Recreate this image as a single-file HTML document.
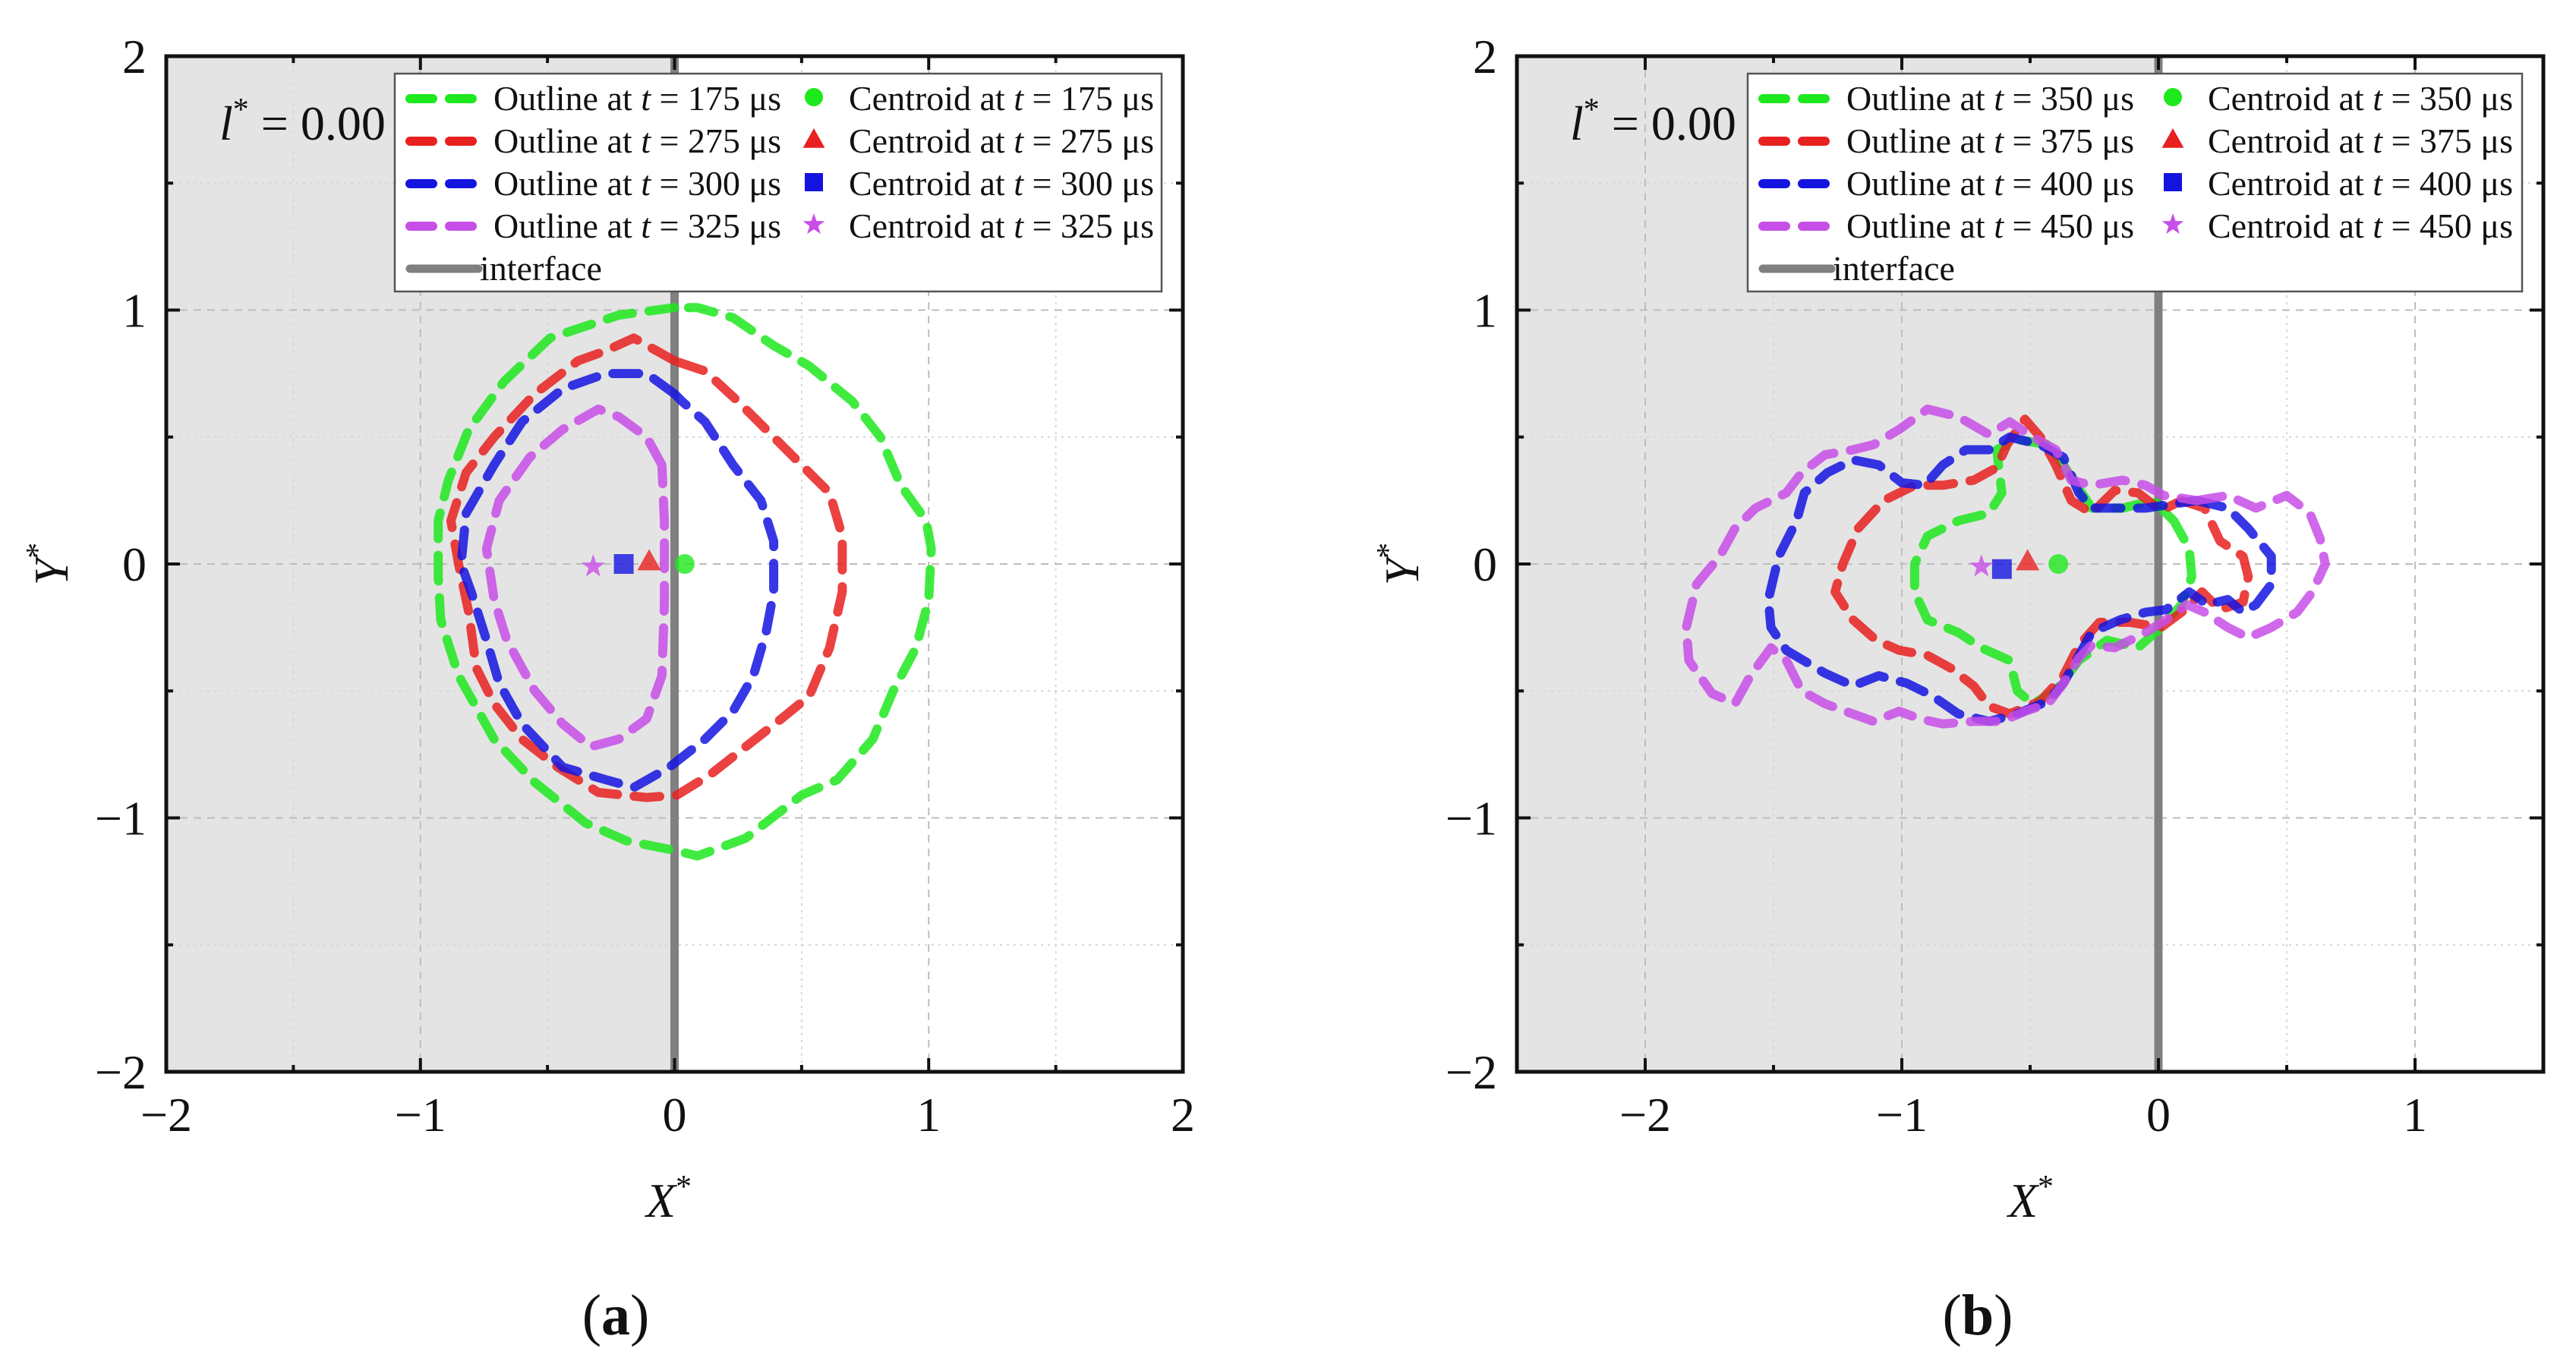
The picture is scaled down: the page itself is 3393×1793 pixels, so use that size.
<!DOCTYPE html>
<html><head><meta charset="utf-8">
<style>
html,body{margin:0;padding:0;background:#fff;}
svg{display:block;font-family:"Liberation Serif","DejaVu Serif",serif;}
</style></head>
<body>
<svg id="fig" width="3393" height="1793" viewBox="0 0 3393 1793" xmlns="http://www.w3.org/2000/svg"></svg>
<script>
// ---------- Panel (a) data ----------
const aLabels = ["175","275","300","325"];
const aOutline175 = [[0,1.01],[-0.22,0.98],[-0.49,0.89],[-0.67,0.72],[-0.81,0.53],[-0.89,0.33],[-0.93,0.17],[-0.93,-0.05],[-0.92,-0.22],[-0.85,-0.44],[-0.71,-0.69],[-0.55,-0.86],[-0.35,-1.02],[-0.19,-1.09],[0.01,-1.13],[0.09,-1.15],[0.28,-1.08],[0.5,-0.91],[0.64,-0.85],[0.78,-0.69],[0.86,-0.5],[0.95,-0.33],[1.0,-0.14],[1.01,0.06],[0.99,0.17],[0.89,0.31],[0.81,0.5],[0.7,0.64],[0.53,0.78],[0.39,0.86],[0.23,0.97],[0.09,1.01]];
const aOutline275 = [[0,0.8],[-0.16,0.89],[-0.27,0.84],[-0.38,0.8],[-0.55,0.67],[-0.71,0.5],[-0.82,0.36],[-0.88,0.17],[-0.85,0],[-0.81,-0.19],[-0.78,-0.41],[-0.71,-0.55],[-0.6,-0.69],[-0.46,-0.8],[-0.3,-0.9],[-0.11,-0.92],[0.01,-0.91],[0.14,-0.83],[0.28,-0.72],[0.42,-0.61],[0.53,-0.52],[0.61,-0.33],[0.66,-0.11],[0.66,0.11],[0.61,0.28],[0.53,0.36],[0.39,0.5],[0.25,0.64],[0.12,0.76]];
const aOutline300 = [[0,0.67],[-0.11,0.75],[-0.27,0.75],[-0.44,0.69],[-0.6,0.56],[-0.71,0.39],[-0.82,0.2],[-0.84,0],[-0.8,-0.11],[-0.74,-0.3],[-0.69,-0.47],[-0.6,-0.63],[-0.44,-0.8],[-0.27,-0.85],[-0.16,-0.88],[-0.02,-0.8],[0.12,-0.69],[0.23,-0.58],[0.31,-0.44],[0.36,-0.27],[0.39,-0.11],[0.39,0.09],[0.34,0.25],[0.23,0.39],[0.12,0.56],[0.03,0.64]];
const aOutline325 = [[-0.05,0.39],[-0.11,0.5],[-0.22,0.58],[-0.3,0.61],[-0.44,0.53],[-0.57,0.42],[-0.69,0.25],[-0.74,0.06],[-0.71,-0.14],[-0.66,-0.3],[-0.55,-0.5],[-0.44,-0.63],[-0.33,-0.72],[-0.22,-0.69],[-0.11,-0.61],[-0.05,-0.44],[-0.04,-0.16],[-0.04,0.17]];
const aCentroidX = [0.04,-0.10,-0.20,-0.32];
const aCentroidY = [0.0,0.01,0.0,-0.01];

// ---------- Panel (b) data ----------
const bLabels = ["350","375","400","450"];
const bOutline350 = [[0.06,0.17],[-0.02,0.25],[-0.14,0.22],[-0.26,0.22],[-0.37,0.39],[-0.43,0.47],[-0.55,0.49],[-0.63,0.45],[-0.61,0.28],[-0.66,0.2],[-0.78,0.17],[-0.9,0.11],[-0.95,0],[-0.95,-0.11],[-0.9,-0.22],[-0.78,-0.27],[-0.69,-0.33],[-0.58,-0.38],[-0.55,-0.5],[-0.49,-0.55],[-0.4,-0.5],[-0.31,-0.38],[-0.2,-0.3],[-0.08,-0.33],[0.01,-0.25],[0.09,-0.16],[0.13,-0.05],[0.12,0.06]];
const bOutline375 = [[0.09,0.25],[0.18,0.22],[0.24,0.09],[0.33,0.03],[0.35,-0.05],[0.33,-0.15],[0.24,-0.18],[0.17,-0.11],[0.09,-0.19],[0.01,-0.25],[-0.11,-0.23],[-0.23,-0.23],[-0.31,-0.32],[-0.37,-0.44],[-0.46,-0.54],[-0.58,-0.59],[-0.66,-0.56],[-0.72,-0.48],[-0.81,-0.41],[-0.9,-0.36],[-1.01,-0.34],[-1.1,-0.3],[-1.19,-0.22],[-1.26,-0.11],[-1.23,0],[-1.17,0.14],[-1.07,0.25],[-0.95,0.31],[-0.84,0.31],[-0.72,0.33],[-0.63,0.38],[-0.59,0.47],[-0.52,0.57],[-0.46,0.5],[-0.4,0.39],[-0.34,0.25],[-0.26,0.2],[-0.17,0.29],[-0.08,0.28],[0.01,0.21]];
const bOutline400 = [[0.15,0.25],[0.27,0.22],[0.35,0.14],[0.44,0.03],[0.44,-0.08],[0.38,-0.16],[0.33,-0.19],[0.27,-0.14],[0.19,-0.16],[0.12,-0.11],[0.03,-0.18],[-0.05,-0.19],[-0.15,-0.22],[-0.26,-0.27],[-0.31,-0.36],[-0.37,-0.47],[-0.43,-0.54],[-0.55,-0.59],[-0.66,-0.62],[-0.78,-0.59],[-0.88,-0.52],[-0.98,-0.47],[-1.09,-0.44],[-1.19,-0.48],[-1.3,-0.43],[-1.45,-0.34],[-1.51,-0.25],[-1.52,-0.14],[-1.48,0.03],[-1.41,0.17],[-1.38,0.28],[-1.29,0.36],[-1.19,0.41],[-1.09,0.39],[-1.0,0.32],[-0.91,0.31],[-0.84,0.39],[-0.75,0.45],[-0.66,0.45],[-0.58,0.5],[-0.46,0.47],[-0.37,0.42],[-0.31,0.28],[-0.26,0.22],[-0.17,0.22],[-0.05,0.22]];
const bOutline450 = [[0.15,0.25],[0.27,0.27],[0.38,0.22],[0.5,0.27],[0.59,0.2],[0.63,0.1],[0.65,0],[0.6,-0.11],[0.54,-0.19],[0.44,-0.25],[0.35,-0.29],[0.27,-0.25],[0.18,-0.19],[0.11,-0.16],[0.03,-0.22],[-0.05,-0.27],[-0.17,-0.33],[-0.26,-0.32],[-0.31,-0.37],[-0.37,-0.47],[-0.43,-0.55],[-0.52,-0.58],[-0.61,-0.62],[-0.72,-0.62],[-0.84,-0.63],[-0.93,-0.61],[-1.01,-0.58],[-1.11,-0.62],[-1.22,-0.58],[-1.3,-0.55],[-1.39,-0.5],[-1.45,-0.38],[-1.51,-0.33],[-1.59,-0.44],[-1.65,-0.55],[-1.74,-0.51],[-1.83,-0.38],[-1.84,-0.25],[-1.8,-0.08],[-1.71,0.03],[-1.65,0.14],[-1.57,0.22],[-1.45,0.28],[-1.39,0.36],[-1.3,0.43],[-1.19,0.45],[-1.11,0.47],[-1.01,0.53],[-0.9,0.61],[-0.78,0.58],[-0.66,0.51],[-0.58,0.56],[-0.49,0.5],[-0.4,0.45],[-0.34,0.33],[-0.26,0.31],[-0.14,0.33],[-0.05,0.31],[0.02,0.27]];
const bCentroidX = [-0.39,-0.51,-0.61,-0.69];
const bCentroidY = [0.0,0.01,-0.02,-0.01];

const xTicksA = [-2,-1,0,1,2];
const xTicksB = [-2,-1,0,1];
const yTicks = [-2,-1,0,1,2];

const NS = "http://www.w3.org/2000/svg";
const svg = document.getElementById("fig");
const colors = ["#1ee81e","#e82020","#1414e0","#c84ee8"];
const markers = ["circle","triangle","square","star"];

function mk(tag, attrs, parent){
  const e = document.createElementNS(NS, tag);
  for (const k in attrs) e.setAttribute(k, attrs[k]);
  (parent||svg).appendChild(e);
  return e;
}
function marker(g, type, cx, cy, r, color){
  let e;
  if (type==="circle") e = mk("circle",{cx:cx,cy:cy,r:r,fill:color},g);
  else if (type==="square") e = mk("rect",{x:cx-r,y:cy-r,width:2*r,height:2*r,fill:color},g);
  else if (type==="triangle") e = mk("polygon",{points:`${cx},${cy-r*1.25} ${cx-r*1.2},${cy+r*0.9} ${cx+r*1.2},${cy+r*0.9}`,fill:color},g);
  else {
    let p=[]; for(let i=0;i<10;i++){const a=-Math.PI/2+i*Math.PI/5; const rr=i%2?r*0.5:r*1.25; p.push((cx+rr*Math.cos(a)).toFixed(1)+","+(cy+rr*Math.sin(a)).toFixed(1));}
    e = mk("polygon",{points:p.join(" "),fill:color},g);
  }
  return e;
}

function panel(cfg){
  const g = mk("g",{});
  
  
  const L=cfg.left,R=cfg.right,T=74,B=1412;
  const sx = v => L + (v-cfg.xmin)/(cfg.xmax-cfg.xmin)*(R-L);
  const sy = v => B - (v+2)/4*(B-T);
  mk("rect",{x:L,y:T,width:R-L,height:B-T,fill:"#fff"},g);
  const shade = mk("rect",{x:L,y:T,width:sx(0)-L,height:B-T,fill:"#e4e4e4"},g);
  
  
  for (let v=cfg.xmin; v<=cfg.xmax+1e-9; v+=0.5){
    const major = Math.abs(v-Math.round(v))<1e-9;
    mk("line",{x1:sx(v),x2:sx(v),y1:T,y2:B,stroke:major?"#bdbdbd":"#d6d6d6","stroke-width":2,"stroke-dasharray":major?"10,8":"3,6"},g);
  }
  for (let v=-2; v<=2; v+=0.5){
    const major = Math.abs(v-Math.round(v))<1e-9;
    mk("line",{x1:L,x2:R,y1:sy(v),y2:sy(v),stroke:major?"#bdbdbd":"#d6d6d6","stroke-width":2,"stroke-dasharray":major?"10,8":"3,6"},g);
  }
  const itf = mk("line",{x1:sx(0),x2:sx(0),y1:T,y2:B,stroke:"#808080","stroke-width":11},g);
  
  
  cfg.outlines.forEach((pts,i)=>{
    const d = pts.map((p,j)=>(j?"L":"M")+sx(p[0]).toFixed(1)+","+sy(p[1]).toFixed(1)).join(" ")+" Z";
    const path = mk("path",{d:d,fill:"none",stroke:colors[i],"stroke-width":12,"stroke-dasharray":"34,22","stroke-linecap":"round","stroke-linejoin":"round",opacity:0.85},g);
    
    
  });
  cfg.cx.forEach((x,i)=>{
    const m = marker(g, markers[i], sx(x), sy(cfg.cy[i]), 13, colors[i]);
    m.setAttribute('opacity','0.8');
    
    
  });
  for (let v=cfg.xmin; v<=cfg.xmax+1e-9; v+=0.5){
    const len = Math.abs(v-Math.round(v))<1e-9?18:9;
    mk("line",{x1:sx(v),x2:sx(v),y1:B,y2:B-len,stroke:"#111","stroke-width":4},g);
    mk("line",{x1:sx(v),x2:sx(v),y1:T,y2:T+len,stroke:"#111","stroke-width":4},g);
  }
  for (let v=-2; v<=2; v+=0.5){
    const len = Math.abs(v-Math.round(v))<1e-9?18:9;
    mk("line",{x1:L,x2:L+len,y1:sy(v),y2:sy(v),stroke:"#111","stroke-width":4},g);
    mk("line",{x1:R,x2:R-len,y1:sy(v),y2:sy(v),stroke:"#111","stroke-width":4},g);
  }
  const frame = mk("rect",{x:L,y:T,width:R-L,height:B-T,fill:"none",stroke:"#111","stroke-width":5},g);
  
  
  cfg.xticks.forEach(v=>{
    const t = mk("text",{x:sx(v),y:1490,"font-size":64,"text-anchor":"middle",fill:"#111"},g);
    t.textContent = v<0 ? "\u2212"+Math.abs(v) : String(v);
    
    
  });
  yTicks.forEach(v=>{
    const t = mk("text",{x:L-26,y:sy(v)+22,"font-size":64,"text-anchor":"end",fill:"#111"},g);
    t.textContent = v<0 ? "\u2212"+Math.abs(v) : String(v);
    
    
  });
  const lt = mk("text",{x:L+70,y:184,"font-size":64,fill:"#111"},g);
  lt.innerHTML = '<tspan font-style="italic">l</tspan><tspan dy="-26" font-size="42">*</tspan><tspan dy="26"> = 0.00</tspan>';
  
  
  const xt = mk("text",{x:cfg.xTitleX,y:1603,"font-size":64,"text-anchor":"middle",fill:"#111"},g);
  xt.innerHTML = '<tspan font-style="italic">X</tspan><tspan dy="-26" font-size="42">*</tspan>';
  
  
  const yt = mk("text",{x:0,y:0,"font-size":64,"text-anchor":"middle",fill:"#111",transform:`translate(${L-130},${sy(0)}) rotate(-90)`},g);
  yt.innerHTML = '<tspan font-style="italic">Y</tspan><tspan dy="-26" font-size="42">*</tspan>';
  
  
  const pl = mk("text",{x:cfg.xTitleX-70,y:1758,"font-size":76,"text-anchor":"middle",fill:"#111"},g);
  pl.innerHTML = '(<tspan font-weight="bold">'+cfg.tag+'</tspan>)';
  
  
  const lg = mk("g",{},g);
  
  
  const lx = cfg.legL, lw = cfg.legR-cfg.legL;
  mk("rect",{x:lx,y:97,width:lw,height:287,fill:"#fff",stroke:"#555","stroke-width":2.5},lg);
  const rows=[130,186,242,298,354];
  cfg.labels.forEach((lab,i)=>{
    const y=rows[i];
    const ln = mk("line",{x1:lx+20,x2:lx+110,y1:y,y2:y,stroke:colors[i],"stroke-width":12,"stroke-dasharray":"30,22","stroke-linecap":"round"},lg);
    
    
    const t1 = mk("text",{x:lx+130,y:y+15,"font-size":46,fill:"#111"},lg);
    t1.innerHTML = 'Outline at <tspan font-style="italic">t</tspan> = '+lab+' \u03bcs';
    const m = marker(lg, markers[i], cfg.legMark, y-2, 12, colors[i]);
    
    
    const t2 = mk("text",{x:cfg.legMark+46,y:y+15,"font-size":46,fill:"#111"},lg);
    t2.innerHTML = 'Centroid at <tspan font-style="italic">t</tspan> = '+lab+' \u03bcs';
  });
  mk("line",{x1:lx+20,x2:lx+110,y1:rows[4],y2:rows[4],stroke:"#808080","stroke-width":11,"stroke-linecap":"round"},lg);
  const ti = mk("text",{x:lx+112,y:rows[4]+15,"font-size":46,fill:"#111"},lg);
  ti.textContent = "interface";
}

panel({name:"panel-a",tag:"a",left:219,right:1558,xmin:-2,xmax:2,
  outlines:[aOutline175,aOutline275,aOutline300,aOutline325],labels:aLabels,cx:aCentroidX,cy:aCentroidY,
  xticks:xTicksA,xTitleX:881,legL:520,legR:1530,legMark:1072});
panel({name:"panel-b",tag:"b",left:1998,right:3350,xmin:-2.5,xmax:1.5,
  outlines:[bOutline350,bOutline375,bOutline400,bOutline450],labels:bLabels,cx:bCentroidX,cy:bCentroidY,
  xticks:xTicksB,xTitleX:2675,legL:2302,legR:3322,legMark:2862});
</script>
</body></html>
